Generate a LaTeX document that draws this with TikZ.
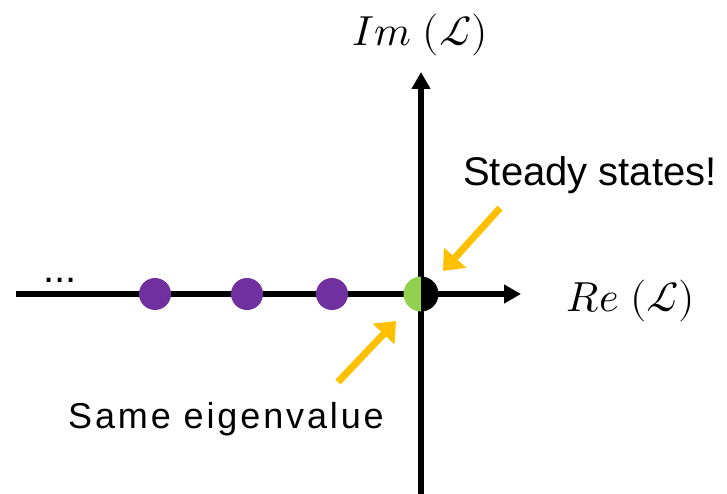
\documentclass[tikz,border=0pt]{standalone}
\usepackage{unicode-math}
\setmainfont{Liberation Sans}
\setmathfont{Latin Modern Math}
\usetikzlibrary{arrows.meta}
\definecolor{eigpurple}{HTML}{7030A0}
\definecolor{eiggreen}{HTML}{92D050}
\definecolor{calloutorange}{HTML}{FFC000}
\tikzset{
  axis/.style={line width=6pt,-{Triangle[length=17pt,width=18pt]}},
  eig/.style={circle,fill=eigpurple,minimum size=32pt,inner sep=0pt},
  callout/.style={line width=7pt,calloutorange,-{Triangle[length=18pt,width=29pt]}},
  lbl/.style={inner sep=0pt,font=\fontsize{40}{44}\selectfont},
  axislbl/.style={inner sep=0pt,font=\fontsize{42}{46}\selectfont}
}
\begin{document}
\begin{tikzpicture}[x=1pt,y=-1pt]
  \useasboundingbox (0,0) rectangle (727,494);
  % axes
  \coordinate (origin) at (421,294);
  \coordinate (reend) at (521,294);
  \coordinate (imend) at (421,72);
  \draw[axis,-] (16,294) -- (origin);
  \draw[axis] (origin) -- (reend);
  \draw[axis,-] (421,494) -- (origin);
  \draw[axis] (origin) -- (imend);
  \node[axislbl,anchor=base] (imlabel) at (420,46) {$Im\ (\mathcal{L})$};
  \node[axislbl,anchor=base west] (relabel) at (566,311) {$Re\ (\mathcal{L})$};
  % eigenvalues
  \node[lbl,anchor=base west] (more) at (43,282) {...};
  \node[eig] (e3) at (155,294) {};
  \node[eig] (e2) at (247,294) {};
  \node[eig] (e1) at (332,294) {};
  \fill[eiggreen] (421,311.5) arc[start angle=90,end angle=270,radius=17.5] -- cycle;
  \fill[black] (421,311.5) arc[start angle=90,end angle=-90,radius=17.5] -- cycle;
  \node[circle,minimum size=35pt,inner sep=0pt] (e0) at (origin) {};
  % callouts
  \node[lbl,anchor=base west] (steady) at (463,186) {Steady states!};
  \node[lbl,anchor=base west,font={\addfontfeature{LetterSpace=8}\fontsize{36}{40}\selectfont}] (same) at (68,428) {Same eigenvalue};
  \coordinate (steadytail) at (500,208);
  \coordinate (steadytip) at (443,271);
  \coordinate (sametail) at (338,382);
  \coordinate (sametip) at (396,321);
  \draw[callout] (steadytail) -- (steadytip);
  \draw[callout] (sametail) -- (sametip);
\end{tikzpicture}
\end{document}
